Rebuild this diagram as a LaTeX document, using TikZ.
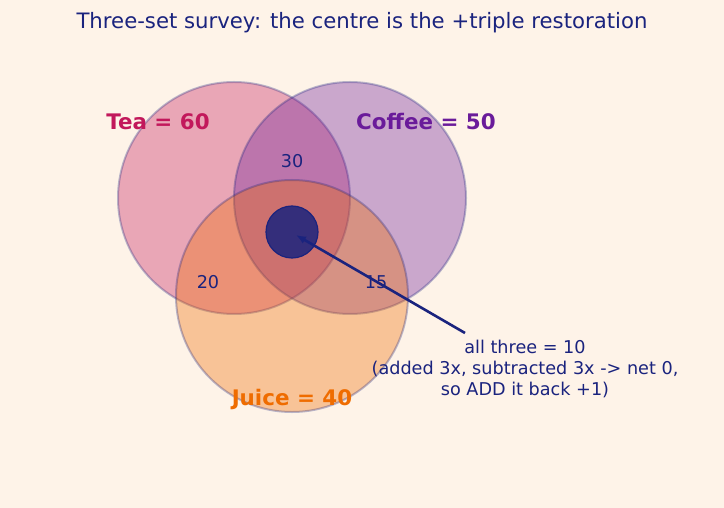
\documentclass[tikz,border=0pt]{standalone}
\usepackage{fontspec}
\setmainfont{DejaVu Sans}
\usetikzlibrary{arrows.meta}
\definecolor{paper}{HTML}{FEF3E8}
\definecolor{ink}{HTML}{1A237E}
\definecolor{teared}{HTML}{C2185B}
\definecolor{coffeepurple}{HTML}{6A1B9A}
\definecolor{juiceorange}{HTML}{EF6C00}
\begin{document}
\begin{tikzpicture}[x=1bp,y=-1bp,
  setdisc/.style={circle, minimum size=232bp, inner sep=0pt, fill opacity=0.35, draw=ink, draw opacity=0.3, line width=2bp},
  setlabel/.style={font=\fontsize{21.5}{25}\selectfont\bfseries},
  count/.style={text=ink, font=\fontsize{17.7}{21}\selectfont}]
% canvas
\fill[paper] (0,0) rectangle (724,508);
\useasboundingbox (0,0) rectangle (724,508);
\node[text=ink, font=\fontsize{21.3}{25}\selectfont] (title) at (362,23) {Three-set survey: the centre is the +triple restoration};
% the three sets
\node[setdisc, fill=teared] (tea) at (234,198) {};
\node[setdisc, fill=coffeepurple] (coffee) at (350,198) {};
\node[setdisc, fill=juiceorange] (juice) at (292,296) {};
% triple overlap
\node[circle, minimum size=52bp, inner sep=0pt, fill=ink, fill opacity=0.85, draw=ink, line width=1.2bp] (core) at (292,232) {};
% set names
\node[setlabel, text=teared] (tealabel) at (158,122) {Tea = 60};
\node[setlabel, text=coffeepurple] (coffeelabel) at (426,122) {Coffee = 50};
\node[setlabel, text=juiceorange] (juicelabel) at (292,400) {Juice = 40};
% pairwise counts
\node[count] (teacoffee) at (292,161) {30};
\node[count] (teajuice) at (208,282) {20};
\node[count] (coffeejuice) at (376,282) {15};
% annotation
\node[count, align=center] (note) at (525,369) {all three = 10\\(added 3x, subtracted 3x -> net 0,\\so ADD it back +1)};
\coordinate (tail) at (465,333);
\draw[ink, line width=2.6bp, -{Latex[length=10bp,width=8bp]}] (tail) -- ([shift={(4,3)}]core.center);
\end{tikzpicture}
\end{document}
